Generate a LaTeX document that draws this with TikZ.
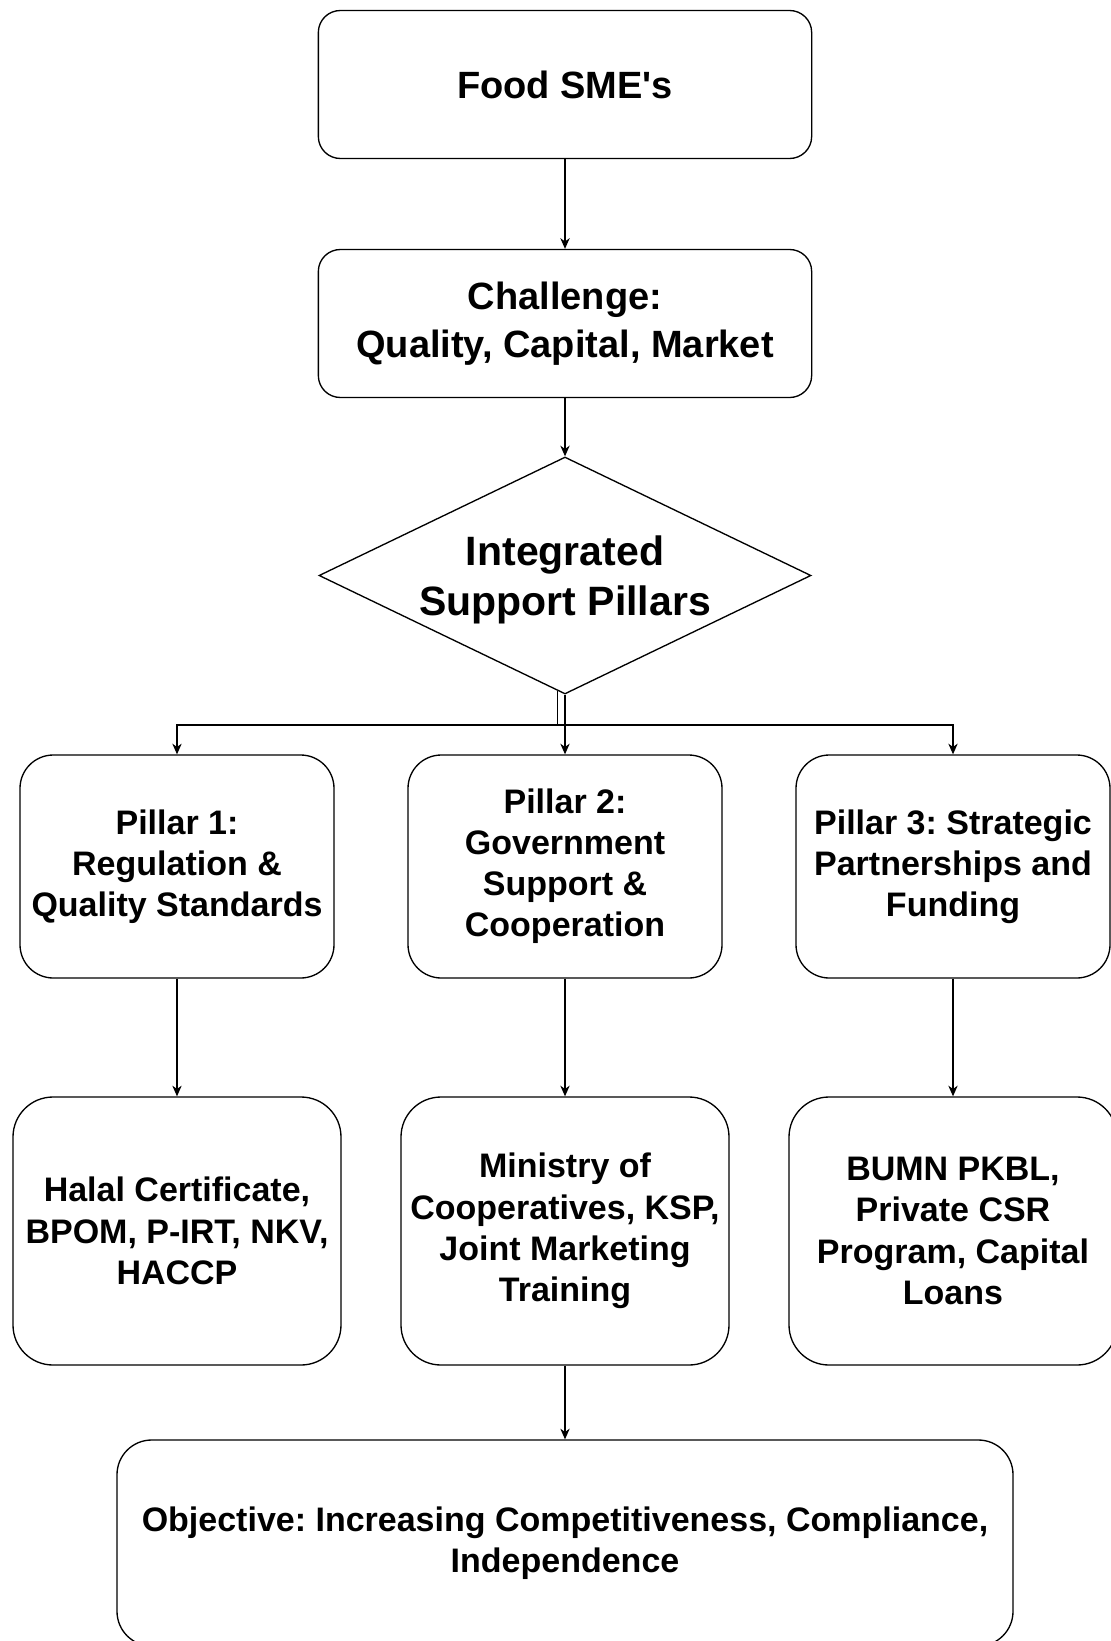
\documentclass[tikz,border=0pt]{standalone}
\usepackage{fontspec}
\setmainfont{Liberation Sans}
\usetikzlibrary{shapes.geometric,arrows.meta,calc}
\definecolor{ink}{HTML}{000000}
\definecolor{paper}{HTML}{FFFFFF}
\frenchspacing
\tikzset{
  flowBox/.style={draw=ink, fill=paper, line width=1pt, align=center, inner sep=0pt},
  headBox/.style={flowBox, rounded corners=16.5pt, minimum width=370pt, minimum height=111pt,
    font=\bfseries\fontsize{28.5}{36}\selectfont},
  pillarBox/.style={flowBox, rounded corners=25pt, minimum width=235.5pt, minimum height=167.25pt,
    font=\bfseries\fontsize{25.5}{30.75}\selectfont},
  itemBox/.style={flowBox, rounded corners=30pt, minimum width=246pt, minimum height=201pt,
    font=\bfseries\fontsize{25.5}{31}\selectfont},
  goalBox/.style={flowBox, rounded corners=26pt, minimum width=672pt, minimum height=154.5pt,
    font=\bfseries\fontsize{25.5}{31}\selectfont},
  hubDiamond/.style={diamond, draw=ink, fill=paper, line width=1pt, aspect=2.076, inner sep=0pt,
    minimum width=369pt, minimum height=177.75pt, align=center, text depth=0pt,
    font=\bfseries\fontsize{30.75}{37.5}\selectfont},
  flowArrow/.style={draw=ink, line width=1pt, -{Stealth[length=8pt,width=7pt,inset=2.5pt]}},
}

\begin{document}
\begin{tikzpicture}[x=0.75pt, y=-0.75pt]
  \path[use as bounding box, fill=paper] (0,0) rectangle (1110,1641);

  % top of the chain
  \node[headBox] (sme)  at (565,84.5)  {Food SME\textquotesingle s};
  \node[headBox] (chal) at (565,323.5) {Challenge:\\Quality, Capital, Market};
  \node[hubDiamond] (dia) at (565,575.5) {Integrated\\Support Pillars};

  % the three pillars
  \node[pillarBox] (p1) at (177,866.5) {Pillar 1:\\Regulation \&\\Quality Standards};
  \node[pillarBox] (p2) at (565,866.5) {Pillar 2:\\Government\\Support \&\\Cooperation};
  \node[pillarBox] (p3) at (953,866.5) {Pillar 3: Strategic\\Partnerships and\\Funding};

  % what each pillar brings
  \node[itemBox] (b1) at (177,1231) {Halal Certificate,\\BPOM, P-IRT, NKV,\\HACCP};
  \node[itemBox] (b2) at (565,1231) {Ministry of\\Cooperatives, KSP,\\Joint Marketing\\Training};
  \node[itemBox] (b3) at (953,1231) {BUMN PKBL,\\Private CSR\\Program, Capital\\Loans};

  \node[goalBox] (goal) at (565,1543) {Objective: Increasing Competitiveness, Compliance,\\Independence};

  \draw[flowArrow] (sme.south) -- (chal.north);
  \draw[flowArrow] (chal.south) -- (dia.north);
  \draw[flowArrow] (dia.south) -- (p2.north);

  % side branches leave just left of the tip
  \coordinate (fork) at ($(dia.south)!0.03!(dia.west)$);
  \coordinate (bus) at (0,725);
  \draw[flowArrow] (fork) -- (fork |- bus) -| (p1.north);
  \draw[flowArrow] (fork) -- (fork |- bus) -| (p3.north);

  \foreach \i in {1,2,3}
    \draw[flowArrow] (p\i.south) -- (b\i.north);
  \draw[flowArrow] (b2.south) -- (goal.north);
\end{tikzpicture}
\end{document}
